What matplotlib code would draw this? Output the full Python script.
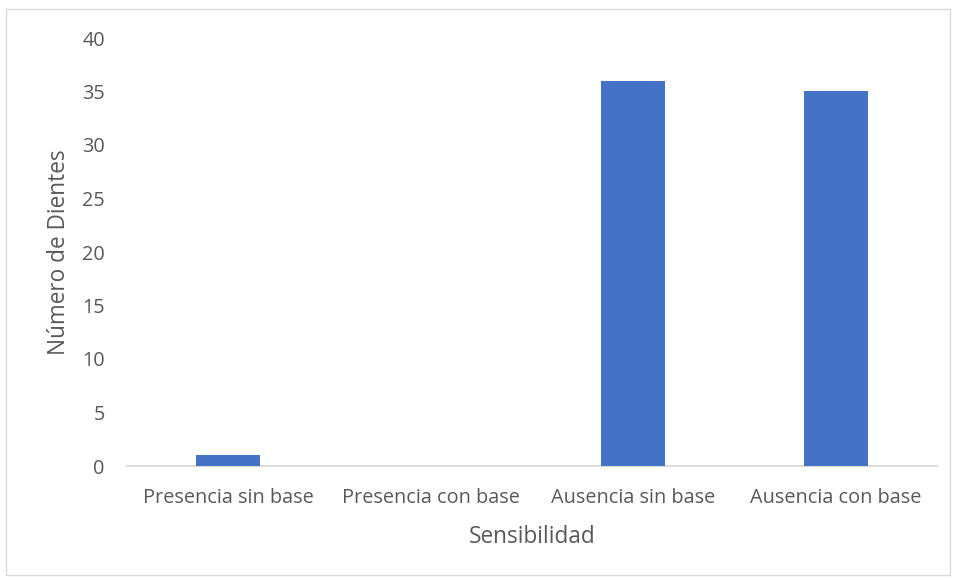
import numpy as np
import matplotlib.pyplot as plt
from matplotlib.patches import Rectangle

categorias = ['Presencia sin base', 'Presencia con base', 'Ausencia sin base', 'Ausencia con base']
dientes = [1, 0, 36, 35]
yticks = [0, 5, 10, 15, 20, 25, 30, 35, 40]

gris = '#595959'
plt.rcParams['font.family'] = ['Open Sans', 'DejaVu Sans']

fig = plt.figure(figsize=(9.57, 5.8), dpi=100)
# marco del grafico
fig.patches.append(Rectangle((6/957, 5/580), 944/957, 566/580, transform=fig.transFigure,
                             fill=False, edgecolor='#d9d9d9', linewidth=1))

ax = fig.add_axes([127/957, 1 - 466/580, 810/957, (466 - 38)/580])
x = np.arange(len(categorias))
ax.bar(x, dientes, width=0.315, color='#4472C4', zorder=3)

ax.set_xlim(-0.5, len(categorias) - 0.5)
ax.set_ylim(0, 40)
ax.set_yticks(yticks)
ax.set_xticks(x)
ax.set_xticklabels(categorias)
ax.tick_params(axis='both', length=0, labelsize=14.3, colors=gris)
ax.tick_params(axis='x', pad=16)
ax.tick_params(axis='y', pad=16)

for s in ['top', 'right', 'left']:
    ax.spines[s].set_visible(False)
ax.spines['bottom'].set_color('#d9d9d9')
ax.spines['bottom'].set_linewidth(1.3)

ax.set_xlabel('Sensibilidad', fontsize=16.3, color=gris, labelpad=12)
ax.set_ylabel('Número de Dientes', fontsize=16.3, color=gris, labelpad=8)

fig.savefig('out.png', dpi=100)
